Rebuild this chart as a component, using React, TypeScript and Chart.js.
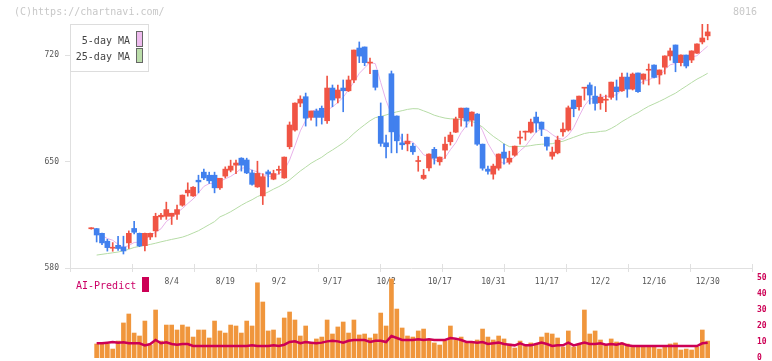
import React, { useEffect, useRef } from "react";
import { Chart, registerables } from "chart.js";

Chart.register(...registerables);

const FONT = "'DejaVu Sans Mono', 'Liberation Mono', monospace";

// x tick labels (trading-day index -> date label)
const labelIdx = [15, 25, 35, 45, 55, 65, 75, 85, 95, 105, 115];
const labelText = ["8/4", "8/19", "9/2", "9/17", "10/2", "10/17", "10/31", "11/17", "12/2", "12/16", "12/30"];
const priceTicks = [580, 650, 720];

const opens = [
  605.8, 605.9, 602.8, 597.6, 593, 594.9, 593.8, 596.5, 606, 602.8,
  594.7, 600.4, 604.4, 613.6, 614, 614, 615.3, 621.3, 629.4, 627.4,
  637.7, 643, 641, 641, 632.7, 640.4, 644.3, 647.6, 652.2, 651,
  642.5, 633.3, 627.4, 643.2, 638.4, 644.2, 639.2, 659.7, 670.7, 688.4,
  692.6, 679, 683.2, 685, 676.8, 698.3, 691.7, 698.3, 696.5, 703.6,
  724.6, 725.3, 714.7, 710, 679.7, 662.3, 707.7, 679.9, 662.3, 661.6,
  660.1, 650, 638.9, 645.8, 658, 649.8, 657.5, 663, 669.3, 678.6,
  685.1, 677.2, 681.2, 661.4, 645, 641.7, 645.6, 656.2, 649.6, 654.2,
  665.4, 669.3, 669.3, 679.2, 675.9, 666, 653.5, 655.7, 669.5, 670.7,
  690.4, 686, 698.2, 700.3, 693, 688.6, 690.3, 692.2, 699, 696.5,
  705.5, 697.6, 708.2, 704, 710, 713.4, 706.9, 712, 719.4, 726.6,
  715, 720, 716.7, 721.2, 728.6, 732.6,
];
const highs = [
  606.5, 606, 603, 598.9, 596.7, 600.9, 600.9, 604.4, 610.7, 603,
  603, 603, 616, 616, 623.3, 616, 621.3, 628, 636, 633.5,
  641, 645, 643, 643, 639, 646.5, 650.9, 651, 652.5, 652.2,
  644.3, 650.2, 642, 644.3, 644.3, 647, 653, 676, 688.5, 693.2,
  695, 683.2, 684.5, 686.5, 706.2, 700.3, 700.3, 703.6, 706.2, 723.3,
  728.6, 725.3, 718, 710, 688.5, 667.4, 709.5, 680, 668, 668,
  661.9, 653.5, 644.8, 655, 659.3, 653, 666, 669.3, 679.2, 685.1,
  685.2, 682.6, 681.5, 661.5, 647, 648.3, 655, 661.4, 656.8, 660.2,
  670, 670, 677.9, 682.5, 676, 666, 659.5, 666.7, 675.5, 686.5,
  690.4, 693, 698.5, 701.8, 699.2, 694.3, 693.7, 702.2, 703.6, 708.2,
  708.2, 708.2, 708.2, 707.6, 714.1, 713.5, 710.2, 719.5, 724.6, 726.6,
  720.1, 720, 722.8, 727.4, 740.4, 740.4,
];
const lows = [
  605.5, 597.1, 595.4, 591.1, 591, 591.6, 589.2, 592.8, 602.4, 594,
  591.2, 598.7, 600.4, 612, 612, 608.6, 612, 620.6, 627.2, 627,
  629.4, 638, 635.6, 629.4, 631.6, 639.2, 643.2, 642, 643.7, 642,
  634.5, 633, 621.7, 633.3, 638, 641.7, 639, 658.3, 670, 686,
  673.3, 677.2, 673.3, 674.6, 675, 686, 688.6, 682.7, 696, 701.8,
  715, 713, 707.7, 697, 660, 652.4, 655.7, 655.7, 658, 657,
  654.7, 643.6, 638.2, 643.9, 648.3, 647.6, 652, 660.8, 669, 673.3,
  672.6, 673.3, 660.6, 644.3, 641.7, 638.4, 644.3, 648.3, 648.3, 653.5,
  661.4, 664, 668.7, 669.3, 667, 657.5, 651.5, 655, 666.7, 670,
  679.4, 683.8, 690.4, 687.8, 683.8, 684.3, 682.7, 690.9, 690.4, 696,
  692.2, 697, 695.5, 700.9, 700.3, 705, 700.9, 707.5, 716.7, 709,
  712.8, 711.5, 715, 721, 727.3, 730,
];
const closes = [
  606, 601.7, 596.5, 593.4, 593.6, 592.8, 591.2, 602.8, 603.5, 594.5,
  602.8, 602.8, 614, 614.7, 618.4, 616, 618.4, 627.9, 631.2, 633.1,
  636.6, 639.2, 637.3, 632.7, 639, 645, 647, 649, 647.6, 642.5,
  635, 642.2, 640, 641.7, 642.1, 644.4, 652.9, 674, 688.4, 691,
  678.5, 683.2, 679, 679, 698.3, 690.4, 697, 696.5, 703.6, 723.3,
  719.3, 715, 715, 698.8, 661.9, 659.7, 669.5, 663.6, 661, 663.4,
  656.4, 650.3, 641, 654.9, 652.2, 652.9, 661.4, 667.4, 677.9, 685.1,
  676.6, 682.5, 661.4, 645.6, 643.6, 647, 654.9, 652.2, 652.2, 660.1,
  665.8, 669.9, 675.9, 675.3, 671.3, 660.1, 656.2, 664.1, 671.3, 685.3,
  684.7, 693, 698.5, 693.7, 688.2, 692.2, 690.5, 702.2, 695.9, 705.5,
  697.6, 707.5, 695.9, 707.5, 710.2, 705.3, 710.2, 719.4, 722.7, 715,
  720, 712.8, 722.7, 727.3, 731.2, 735.2,
];

// 25-day MA for the first candles (index 1..23)
const ma25Early = [
  588.5, 589, 589.5, 590, 590.5, 591.3, 592.3, 593.5, 594.2, 594.8,
  595.5, 596.3, 597.2, 598, 598.8, 599.5, 600.3, 601.5, 603, 604.5,
  606.5, 608.5, 610.5,
];

// volume panel (index 0 has no bar)
const volume = [
  null, 8.75, 8.75, 8.75, 5.6, 10.6, 21.9, 27.5, 15.6, 13.75,
  23.1, 8.1, 30, 10.6, 20.6, 20.6, 17.5, 20.6, 19.4, 13.1,
  17.5, 17.5, 12.5, 23.1, 16.9, 15.6, 20.6, 20, 15.6, 23.1,
  20, 47, 35, 16.9, 17.5, 12.5, 25, 28.75, 23.75, 13.75,
  20, 9.4, 11.9, 13.1, 23.75, 15, 19.4, 22.5, 15.6, 23.75,
  14.4, 15, 12.5, 15, 28.1, 20, 49.4, 30.6, 18.75, 13.75,
  13.1, 16.9, 18.1, 11.25, 9.4, 8.1, 10.6, 20, 11.25, 13.1,
  9.4, 9.4, 11.25, 18.1, 13.1, 11.25, 13.75, 11.9, 8.75, 6.25,
  10.6, 7.5, 9.4, 8.75, 13.1, 15.6, 15, 12.5, 6.9, 16.9,
  6.9, 8.75, 30, 15, 16.9, 11.25, 8.1, 11.9, 10, 9.4,
  8.75, 6.9, 6.9, 6.9, 6.9, 6.9, 5.6, 6.9, 8.75, 9.4,
  5, 5.6, 5, 6.9, 17.5, 10.6,
];
const aiPredict = [
  null, 9.2, 9.2, 9.6, 10, 9.6, 9.8, 9.2, 9.2, 9.2,
  7.9, 8.75, 11.25, 9.2, 9.8, 8.75, 8.3, 8.75, 8.75, 7.5,
  7.5, 7.5, 7.5, 7.5, 7.5, 7.5, 7.5, 7.5, 7.5, 7.5,
  7.9, 7.5, 7.5, 7.5, 7.9, 7.5, 8.3, 10, 10.4, 9.2,
  10, 9.6, 9.2, 9.6, 10.4, 10.8, 10.4, 9.6, 10.8, 11.25,
  11.25, 11.25, 10, 10.8, 10.8, 10, 13.75, 12.5, 11.25, 11.25,
  11.25, 11.7, 11.25, 11.7, 11.25, 11.25, 11.25, 12.5, 12.1, 11.25,
  10, 10, 9.6, 10, 8.75, 9.2, 9.6, 8.75, 8.3, 7.9,
  9.2, 7.9, 7.9, 8.75, 9.6, 8.75, 7.5, 7.9, 7.9, 9.6,
  7.9, 8.75, 9.6, 8.75, 8.75, 9.2, 8.3, 8.75, 8.3, 9.2,
  7.9, 7.5, 7.5, 7.5, 7.5, 7.5, 7.5, 7.5, 7.5, 7.5,
  7.5, 7.5, 7.5, 7.5, 9.2, 9.6,
];
const volTicks = [0, 10, 20, 30, 40, 50];

const X_MIN = -3.97;
const X_MAX = 123.27;
const UP = "#f05444";
const DOWN = "#4180ee";

function avg(a: number[]) {
  return a.reduce((s, v) => s + v, 0) / a.length;
}

const axisTicks = {
  id: "axisTicks",
  afterDraw(chart: any) {
    const { ctx, chartArea } = chart;
    const { left, right, bottom } = chartArea;
    ctx.save();
    ctx.strokeStyle = "#e0e0e0";
    ctx.lineWidth = 1;
    for (let k = 0; k <= 11; k++) {
      const x = Math.round(left + ((right - left) * k) / 11) + 0.5;
      ctx.beginPath();
      ctx.moveTo(x, bottom - 4);
      ctx.lineTo(x, bottom + 4);
      ctx.stroke();
    }
    ctx.restore();
  },
};

export default function App() {
  const mainRef = useRef<HTMLCanvasElement>(null);
  const volRef = useRef<HTMLCanvasElement>(null);

  useEffect(() => {
    const n = closes.length;
    const colors = closes.map((c, i) => (c >= opens[i] ? UP : DOWN));
    const bodies = closes.map((c, i) => ({ x: i, y: [opens[i], c] }));
    const wicks = closes.map((_, i) => ({ x: i, y: [lows[i], highs[i]] }));
    const ma5: any[] = [];
    const ma25: any[] = [];
    for (let i = 1; i < n; i++) {
      ma5.push({ x: i, y: avg(closes.slice(Math.max(0, i - 4), i + 1)) });
      ma25.push({ x: i, y: i >= 24 ? avg(closes.slice(i - 24, i + 1)) : ma25Early[i - 1] });
    }

    const main = new Chart(mainRef.current as HTMLCanvasElement, {
      type: "bar",
      data: {
        datasets: [
          { type: "line", data: ma5, borderColor: "#e8b2ea", borderWidth: 1, pointRadius: 0, order: 4 } as any,
          { type: "line", data: ma25, borderColor: "#b6dca6", borderWidth: 1, pointRadius: 0, order: 3 } as any,
          { type: "bar", data: wicks, backgroundColor: colors, barThickness: 1, grouped: false, order: 2 } as any,
          { type: "bar", data: bodies, backgroundColor: colors, barThickness: 5, grouped: false, minBarLength: 1, order: 1 } as any,
        ],
      },
      options: {
        responsive: false,
        animation: false,
        layout: { padding: { top: 24, right: 20, left: 0, bottom: 0 } },
        plugins: { legend: { display: false }, tooltip: { enabled: false } },
        scales: {
          x: {
            type: "linear",
            min: X_MIN,
            max: X_MAX,
            offset: false,
            grid: { display: false, drawTicks: false },
            border: { display: true, color: "#e0e0e0" },
            afterBuildTicks: (s: any) => {
              s.ticks = labelIdx.map((v) => ({ value: v }));
            },
            afterFit: (s: any) => {
              s.height = 32;
            },
            ticks: {
              autoSkip: false,
              maxRotation: 0,
              padding: 9,
              color: "#555",
              font: { family: FONT, size: 8 },
              callback: (v: any) => {
                const k = labelIdx.indexOf(Number(v));
                return k >= 0 ? labelText[k] : "";
              },
            },
          },
          y: {
            min: 580,
            max: 740.4,
            grid: { drawOnChartArea: false, color: "#e0e0e0", tickLength: 5 },
            border: { display: true, color: "#e0e0e0" },
            afterBuildTicks: (s: any) => {
              s.ticks = priceTicks.map((v) => ({ value: v }));
            },
            afterFit: (s: any) => {
              s.width = 70;
            },
            ticks: { padding: 6, color: "#555", font: { family: FONT, size: 8 } },
          },
        },
      } as any,
      plugins: [axisTicks],
    });

    const vol = new Chart(volRef.current as HTMLCanvasElement, {
      type: "bar",
      data: {
        datasets: [
          {
            type: "line",
            data: aiPredict.map((v, i) => ({ x: i, y: v })),
            borderColor: "#cc0055",
            borderWidth: 2.5,
            pointRadius: 0,
            order: 1,
          } as any,
          {
            type: "bar",
            data: volume.map((v, i) => ({ x: i, y: v })),
            backgroundColor: "#f0963c",
            barThickness: 4,
            order: 2,
          } as any,
        ],
      },
      options: {
        responsive: false,
        animation: false,
        layout: { padding: { top: 8, bottom: 5, left: 70, right: 0 } },
        plugins: { legend: { display: false }, tooltip: { enabled: false } },
        scales: {
          x: { type: "linear", min: X_MIN, max: X_MAX, offset: false, display: false },
          y: {
            position: "right",
            min: 0,
            max: 50,
            grid: { display: false, drawTicks: true, tickLength: 5 },
            border: { display: false },
            afterBuildTicks: (s: any) => {
              s.ticks = volTicks.map((v) => ({ value: v }));
            },
            afterFit: (s: any) => {
              s.width = 20;
            },
            ticks: { padding: 0, color: "#cc0055", font: { family: FONT, size: 8, weight: "bold" } },
          },
        },
      } as any,
    });

    return () => {
      main.destroy();
      vol.destroy();
    };
  }, []);

  const txt: React.CSSProperties = {
    position: "absolute",
    fontFamily: FONT,
    fontSize: 10,
    lineHeight: "10px",
    whiteSpace: "nowrap",
  };

  return (
    <div style={{ position: "fixed", left: 0, top: 0, width: 772, height: 361, background: "#fff", overflow: "hidden" }}>
      <canvas ref={mainRef} width={772} height={300} style={{ position: "absolute", left: 0, top: 0 }} />
      <canvas ref={volRef} width={772} height={93} style={{ position: "absolute", left: 0, top: 270 }} />
      <div style={{ ...txt, left: 14, top: 7, color: "#c8c8c8" }}>(C)https://chartnavi.com/</div>
      <div style={{ ...txt, left: 733, top: 7, color: "#c8c8c8" }}>8016</div>
      <div
        style={{
          position: "absolute",
          left: 70,
          top: 24,
          width: 79,
          height: 48,
          border: "1px solid #dddddd",
          background: "#fff",
          boxSizing: "border-box",
        }}
      />
      <div style={{ ...txt, left: 0, width: 130, textAlign: "right", top: 36, color: "#444" }}>5-day MA</div>
      <div style={{ ...txt, left: 0, width: 130, textAlign: "right", top: 52, color: "#444" }}>25-day MA</div>
      <div style={{ position: "absolute", left: 136, top: 31, width: 7, height: 16, background: "#eebbee", border: "1px solid #666", boxSizing: "border-box" }} />
      <div style={{ position: "absolute", left: 136, top: 48, width: 7, height: 15, background: "#bbddaa", border: "1px solid #666", boxSizing: "border-box" }} />
      <div style={{ ...txt, left: 76, top: 281, color: "#cc0066" }}>AI-Predict</div>
      <div style={{ position: "absolute", left: 142, top: 277, width: 7, height: 15, background: "#cc0055" }} />
    </div>
  );
}
